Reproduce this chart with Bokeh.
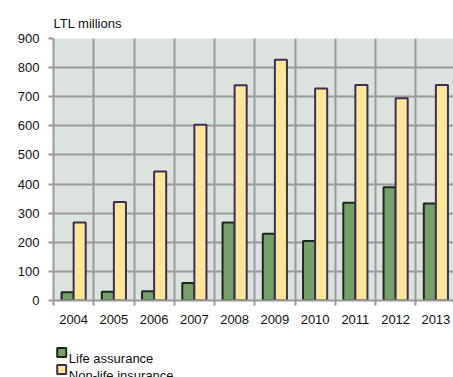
from bokeh.plotting import figure
from bokeh.layouts import column
from bokeh.models import ColumnDataSource, Range1d, FixedTicker
from bokeh.core.properties import value
from bokeh.embed import file_html
from bokeh.resources import INLINE

years = ["2004", "2005", "2006", "2007", "2008", "2009", "2010", "2011", "2012", "2013"]
life_assurance = [28, 30, 32, 60, 268, 229, 204, 336, 389, 333]
non_life_insurance = [268, 338, 443, 604, 739, 827, 728, 740, 695, 740]
y_ticks = [0, 100, 200, 300, 400, 500, 600, 700, 800, 900]
series_names = ["Life assurance", "Non-life insurance"]

GREEN, GREEN_LINE = "#76A06A", "#1E261E"
YELLOW, YELLOW_LINE = "#FFE69A", "#3E2F52"

n = len(years)
idx = list(range(n))
src = ColumnDataSource(dict(
    x_life=[i + 0.35 for i in idx],
    x_non=[i + 0.65 for i in idx],
    life=life_assurance,
    non=non_life_insurance,
))

FONT = "Liberation Sans"

p = figure(width=453, height=330, output_backend="svg", toolbar_location=None,
           x_range=Range1d(0, 400 / 40.25), y_range=Range1d(0, 900),
           min_border_left=53, min_border_right=0, min_border_top=38,
           min_border_bottom=30,
           background_fill_color="#DCE3DF",
           border_fill_color="white", outline_line_color=None,
           title="LTL millions")

p.title.text_font = FONT
p.title.text_font_size = "13px"
p.title.text_font_style = "normal"
p.title.text_color = "#111111"
p.title.align = "left"
p.title.standoff = 15

p.vbar(x="x_life", top="life", width=0.3, source=src,
       fill_color=GREEN, line_color=GREEN_LINE, line_width=2)
p.vbar(x="x_non", top="non", width=0.3, source=src,
       fill_color=YELLOW, line_color=YELLOW_LINE, line_width=2)

# axes
xa = p.xaxis[0]
xa.ticker = FixedTicker(ticks=[i + 0.5 for i in idx], minor_ticks=list(range(n + 1)))
xa.major_label_overrides = {i + 0.5: years[i] for i in idx}
xa.major_tick_line_color = None
xa.minor_tick_in = 0
xa.minor_tick_out = 5
xa.minor_tick_line_color = "#999999"
xa.minor_tick_line_width = 2
xa.axis_line_color = "#999999"
xa.axis_line_width = 2
xa.major_label_text_font = FONT
xa.major_label_text_font_size = "13px"
xa.major_label_text_color = "#111111"
xa.major_label_standoff = 8

ya = p.yaxis[0]
ya.ticker = FixedTicker(ticks=y_ticks)
ya.major_tick_in = 0
ya.major_tick_out = 5
ya.major_tick_line_color = "#999999"
ya.major_tick_line_width = 2
ya.minor_tick_line_color = None
ya.axis_line_color = "#999999"
ya.axis_line_width = 2
ya.major_label_text_font = FONT
ya.major_label_text_font_size = "13px"
ya.major_label_text_color = "#111111"
ya.major_label_standoff = 9

p.xgrid.ticker = FixedTicker(ticks=list(range(n + 1)))
p.xgrid.grid_line_color = "#9A9A9A"
p.xgrid.grid_line_width = 2
p.ygrid.ticker = FixedTicker(ticks=y_ticks)
p.ygrid.grid_line_color = "#9A9A9A"
p.ygrid.grid_line_width = 2

# legend panel: a small figure in pixel units below the chart
# (its frame is aligned with the chart's frame, which starts at x = 53 px)
LH = 47
lg = figure(width=453, height=LH, output_backend="svg", toolbar_location=None,
            x_range=Range1d(53, 453), y_range=Range1d(LH, 0),
            x_axis_location=None, y_axis_location=None,
            min_border_left=53, min_border_right=0, min_border_top=0,
            min_border_bottom=0, outline_line_color=None,
            background_fill_color="white", border_fill_color="white")
lg.grid.visible = False

row_y = [22 + 17 * i for i in range(len(series_names))]
key_src = ColumnDataSource(dict(
    x=[61.2] * len(series_names),
    y=row_y,
    ty=[yy + 5.5 for yy in row_y],
    tx=[68.3] * len(series_names),
    label=series_names,
    fill=[GREEN, YELLOW],
    line=[GREEN_LINE, YELLOW_LINE],
))
lg.rect(x="x", y="y", width=9, height=9, source=key_src,
        fill_color="fill", line_color="line", line_width=2)
lg.text(x="tx", y="ty", text="label", source=key_src,
        text_font=value(FONT), text_font_size="13px", text_color="#111111",
        text_baseline="alphabetic", text_align="left")

layout = column(p, lg, spacing=0)
open("out.html", "w").write(file_html(layout, INLINE))
